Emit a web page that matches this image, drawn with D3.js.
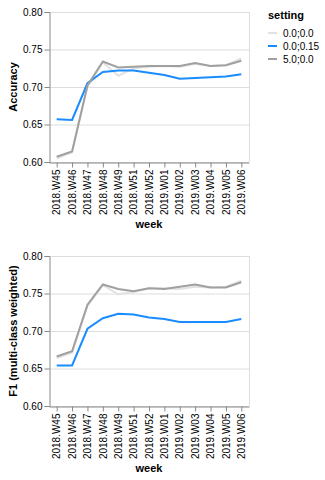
<!DOCTYPE html>
<html><head><meta charset="utf-8">
<script src="https://cdn.jsdelivr.net/npm/d3@7"></script>
<style>body{margin:0;background:#fff}svg{display:block}text{font-family:"Liberation Sans",Arial,Helvetica,sans-serif}</style>
</head><body>
<svg id="c" width="325" height="480"></svg>
<script>
const weeks = ["2018.W45","2018.W46","2018.W47","2018.W48","2018.W49","2018.W51","2018.W52","2019.W01","2019.W02","2019.W03","2019.W04","2019.W05","2019.W06"];
const settings = ["0.0;0.0","0.0;0.15","5.0;0.0"];
const colors = ["#e2e2e2","#1a8cff","#a0a0a0"];
const yTicks = [0.60,0.65,0.70,0.75,0.80];

const accA = [0.605,0.613,0.700,0.733,0.715,0.725,0.727,0.728,0.727,0.731,0.728,0.729,0.738];
const accB = [0.657,0.656,0.705,0.720,0.722,0.722,0.719,0.716,0.711,0.712,0.713,0.714,0.717];
const accC = [0.607,0.614,0.702,0.734,0.726,0.727,0.728,0.728,0.728,0.732,0.728,0.729,0.735];

const f1A = [0.664,0.671,0.733,0.761,0.749,0.752,0.757,0.757,0.756,0.759,0.758,0.759,0.767];
const f1B = [0.654,0.654,0.703,0.717,0.723,0.722,0.718,0.716,0.712,0.712,0.712,0.712,0.716];
const f1C = [0.666,0.673,0.735,0.762,0.756,0.753,0.757,0.756,0.759,0.762,0.758,0.758,0.765];

const panels = [
  {title:"Accuracy", series:[accA,accB,accC], top:12},
  {title:"F1 (multi-class weighted)", series:[f1A,f1B,f1C], top:256}
];

const svg = d3.select("#c");
const left = 49, W = 200, H = 150;
const x = d3.scalePoint().domain(weeks).range([0,W]).padding(0.5);

panels.forEach(p => {
  const g = svg.append("g").attr("transform",`translate(${left},${p.top})`);
  const y = d3.scaleLinear().domain([0.6,0.8]).range([H,0]);
  // grid
  g.append("g").selectAll("line").data(yTicks).join("line")
    .attr("x1",0).attr("x2",W).attr("y1",d=>y(d)+0.5).attr("y2",d=>y(d)+0.5)
    .attr("stroke","#ddd").attr("stroke-width",1);
  g.append("line").attr("x1",W+0.5).attr("x2",W+0.5).attr("y1",0).attr("y2",H).attr("stroke","#ddd");
  // y axis
  const ya = g.append("g").attr("transform","translate(0.5,0)")
    .call(d3.axisLeft(y).tickValues(yTicks).tickFormat(d3.format(".2f")).tickSize(5).tickPadding(2));
  ya.select(".domain").attr("stroke","#888");
  ya.selectAll(".tick line").attr("stroke","#888");
  ya.selectAll(".tick text").attr("font-size",10).attr("fill","#000").attr("font-family",null);
  // x axis
  const xa = g.append("g").attr("transform",`translate(0,${H+0.5})`)
    .call(d3.axisBottom(x).tickSize(5).tickPadding(2).tickSizeOuter(0));
  xa.select(".domain").attr("stroke","#888");
  xa.selectAll(".tick line").attr("stroke","#888");
  xa.selectAll(".tick text").attr("font-size",10).attr("fill","#000").attr("font-family",null)
    .attr("transform","rotate(-90)").attr("text-anchor","end").attr("dy","0.32em").attr("x",-7).attr("y",0);
  // titles
  g.append("text").attr("x",W/2).attr("y",H+66).attr("text-anchor","middle")
    .attr("font-size",11).attr("font-weight","bold").text("week");
  g.append("text").attr("transform",`translate(-32,${H/2}) rotate(-90)`).attr("text-anchor","middle")
    .attr("font-size",11).attr("font-weight","bold").text(p.title);
  // lines
  const line = d3.line().x((d,i)=>x(weeks[i])).y(d=>y(d));
  p.series.forEach((s,k)=>{
    g.append("path").datum(s).attr("d",line).attr("fill","none")
      .attr("stroke",colors[k]).attr("stroke-width",2);
  });
});

// legend
const lg = svg.append("g").attr("transform","translate(268,0)");
lg.append("text").attr("x",0).attr("y",19).attr("font-size",11).attr("font-weight","bold").text("setting");
settings.forEach((s,i)=>{
  const yy = 33 + i*13;
  lg.append("line").attr("x1",0).attr("x2",9).attr("y1",yy).attr("y2",yy).attr("stroke",colors[i]).attr("stroke-width",2);
  lg.append("text").attr("x",15).attr("y",yy+3.5).attr("font-size",10).text(s);
});
</script>
</body></html>
